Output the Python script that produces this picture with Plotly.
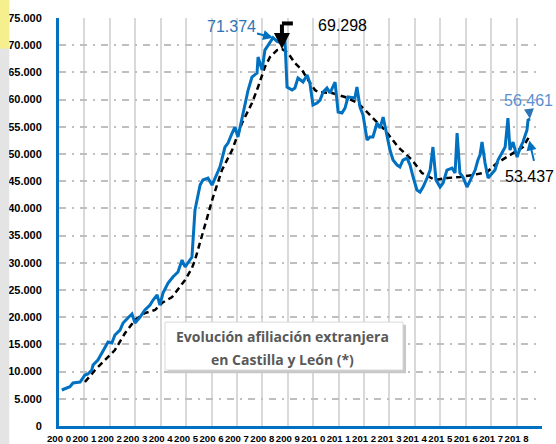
import plotly.graph_objects as go

# Blue series: foreign workers affiliated (decimal year, value)
blue_years = [2000.11, 2000.43, 2000.55, 2000.83, 2001.02, 2001.14, 2001.29, 2001.34, 2001.53, 2001.68,
              2001.81, 2001.93, 2002.08, 2002.20, 2002.40, 2002.52, 2002.71, 2002.87, 2002.99, 2003.19,
              2003.38, 2003.58, 2003.70, 2003.86, 2003.97, 2004.09, 2004.29, 2004.48, 2004.68, 2004.84,
              2004.96, 2005.23, 2005.35, 2005.55, 2005.66, 2005.86, 2006.02, 2006.22, 2006.33, 2006.53,
              2006.65, 2006.81, 2006.92, 2007.04, 2007.20, 2007.44, 2007.59, 2007.79, 2007.83, 2007.99,
              2008.10, 2008.30, 2008.42, 2008.58, 2008.69, 2008.89, 2008.97, 2009.17, 2009.28, 2009.40,
              2009.60, 2009.76, 2009.87, 2009.99, 2010.15, 2010.27, 2010.39, 2010.54, 2010.66, 2010.86,
              2010.98, 2011.13, 2011.25, 2011.37, 2011.64, 2011.72, 2011.84, 2011.96, 2012.12, 2012.23,
              2012.35, 2012.51, 2012.63, 2012.75, 2012.90, 2013.02, 2013.14, 2013.30, 2013.41, 2013.53,
              2013.69, 2013.81, 2013.93, 2014.08, 2014.20, 2014.32, 2014.48, 2014.60, 2014.71, 2014.83,
              2014.99, 2015.11, 2015.26, 2015.46, 2015.58, 2015.66, 2015.77, 2015.89, 2016.05, 2016.17,
              2016.37, 2016.48, 2016.56, 2016.64, 2016.76, 2016.88, 2017.03, 2017.15, 2017.27, 2017.43,
              2017.55, 2017.66, 2017.74, 2017.86, 2018.02, 2018.14, 2018.25, 2018.41, 2018.45, 2018.53]
blue_values = [6617, 7223, 7903, 8087, 9374, 9558, 10293, 11212, 12131, 13417,
               14520, 15439, 15255, 16726, 17645, 18931, 19850, 20586, 18931, 20034,
               21321, 22240, 23159, 24078, 22240, 24445, 26283, 27386, 28305, 30511,
               29224, 31062, 39701, 44296, 45215, 45582, 44296, 46501, 47604, 51280,
               52015, 53853, 54956, 53118, 56794, 61757, 64146, 64882, 67822, 65433,
               69109, 70579, 71374, 70700, 70500, 70800, 62308, 61757, 62124, 63962,
               63226, 64513, 63043, 59000, 59367, 59919, 61389, 62124, 61205, 63227,
               57713, 57529, 58448, 60470, 60286, 62308, 58632, 57162, 52567, 53118,
               53118, 55691, 54772, 56794, 53118, 50729, 48891, 47972, 47604, 48891,
               49258, 47972, 45766, 43377, 43009, 43928, 45582, 47053, 51280, 45215,
               43928, 44663, 47053, 47420, 46501, 53853, 46501, 45766, 43928, 45215,
               47053, 48891, 49810, 52199, 48339, 45582, 46501, 47053, 48891, 50361,
               51280, 56610, 50729, 52199, 49442, 51096, 52199, 54405, 56243, 56461]

# Black dashed trend (decimal year, value)
trend_years = [2001.02, 2001.42, 2001.81, 2002.20, 2002.60, 2002.99, 2003.38, 2003.78, 2004.05, 2004.45,
               2004.96, 2005.23, 2005.35, 2006.06, 2006.41, 2006.81, 2007.20, 2007.59, 2007.83, 2008.10,
               2008.30, 2008.58, 2008.77, 2009.01, 2009.28, 2009.56, 2009.80, 2010.07, 2010.19, 2010.74,
               2011.25, 2011.76, 2012.31, 2012.82, 2013.34, 2013.89, 2014.28, 2014.79, 2015.26, 2015.77,
               2016.28, 2016.84, 2017.23, 2017.62, 2018.02, 2018.25, 2018.53]
trend_values = [8087, 10293, 12131, 13969, 17093, 19483, 20769, 21321, 22607, 23710,
                26835, 29040, 30511, 42090, 47053, 50729, 55691, 59367, 62308, 65984,
                67822, 69109, 69298, 68557, 66719, 65433, 63594, 61757, 61389, 61205,
                60470, 59367, 56794, 54405, 51280, 48891, 46501, 45215, 45582, 45766,
                46133, 46685, 48339, 49442, 50729, 51280, 53437]

x_tickvals = list(range(2000, 2020))
x_ticktext = ["200 0", "200 1", "200 2", "200 3", "200 4", "200 5", "200 6", "200 7", "200 8", "200 9",
              "201 0", "201 1", "201 2", "201 3", "201 4", "201 5", "201 6", "201 7", "201 8", ""]
y_tickvals = list(range(0, 75001, 5000))
y_ticktext = ["0", "5.000", "10.000", "15.000", "20.000", "25.000", "30.000", "35.000", "40.000",
              "45.000", "50.000", "55.000", "60.000", "65.000", "70.000", "75.000"]

BLUE = "#0070C0"

fig = go.Figure()
fig.add_trace(go.Scatter(x=trend_years, y=trend_values, mode="lines",
                         line=dict(color="black", width=2.5, dash="6px,4px"), showlegend=False))
fig.add_trace(go.Scatter(x=blue_years, y=blue_values, mode="lines",
                         line=dict(color=BLUE, width=3), showlegend=False))

fig.update_layout(
    width=556, height=444,
    margin=dict(l=59, r=14, t=18, b=18, autoexpand=False),
    paper_bgcolor="white", plot_bgcolor="white",
    xaxis=dict(range=[2000, 2019], tickvals=x_tickvals, ticktext=x_ticktext, tickangle=0,
               showgrid=True, gridcolor="#d9d9d9", gridwidth=2, automargin=False,
               showline=True, linecolor=BLUE, linewidth=3, ticks="",
               tickfont=dict(family="Liberation Sans, Arial", size=9.6, color="black", weight="bold"),
               ticklabelstandoff=1, zeroline=False, fixedrange=True),
    yaxis=dict(range=[0, 75000], tickvals=y_tickvals, ticktext=y_ticktext, automargin=False,
               showgrid=True, gridcolor="#bfbfbf", gridwidth=2, griddash="7px,6px,2px,6px",
               showline=True, linecolor=BLUE, linewidth=3, ticks="",
               tickfont=dict(family="Liberation Sans, Arial", size=11, color="black", weight="bold"),
               ticklabelstandoff=12, zeroline=False, fixedrange=True),
)

# Title box with shadow (data coordinates)
fig.add_shape(type="rect", x0=2004.30, x1=2013.65, y0=9700, y1=18600,
              fillcolor="#c8c8c8", line=dict(width=0), layer="above")
fig.add_shape(type="rect", x0=2004.17, x1=2013.53, y0=10300, y1=19100,
              fillcolor="white", line=dict(color="#d9d9d9", width=1), layer="above")
fig.add_annotation(x=2008.81, y=16400, showarrow=False, text="Evolución afiliación extranjera",
                   font=dict(family="Open Sans", size=14, color="#595959", weight="bold"))
fig.add_annotation(x=2008.81, y=12150, showarrow=False, text="en Castilla y León (*)",
                   font=dict(family="Open Sans", size=14, color="#595959", weight="bold"))

# Value labels
fig.add_annotation(x=2008.42, y=71374, text="71.374", showarrow=True, arrowhead=2, arrowsize=1,
                   arrowwidth=2, arrowcolor=BLUE, ax=-42, ay=-11,
                   font=dict(family="Liberation Sans, Arial", size=16, color="#2E75B6"))
fig.add_annotation(x=2011.15, y=73700, text="69.298", showarrow=False,
                   font=dict(family="Liberation Sans, Arial", size=16, color="black"))
fig.add_annotation(x=2008.77, y=69298, text="", showarrow=True, arrowhead=2, arrowsize=0.8,
                   arrowwidth=4, arrowcolor="black", ax=0, ay=-26)
fig.add_shape(type="line", x0=2008.77, x1=2009.2, y0=74000, y1=74000,
              line=dict(color="black", width=4), layer="above")
fig.add_annotation(x=2018.53, y=56461, text="56.461", showarrow=True, arrowhead=2, arrowsize=1,
                   arrowwidth=2, arrowcolor="#2E75B6", ax=-2, ay=-18,
                   font=dict(family="Liberation Sans, Arial", size=16, color="#5B8FD0"))
fig.add_annotation(x=2018.5, y=45900, text="53.437", showarrow=False,
                   font=dict(family="Liberation Sans, Arial", size=16, color="black"))
fig.add_annotation(x=2018.5, y=52500, text="", showarrow=True, arrowhead=2, arrowsize=1,
                   arrowwidth=2, arrowcolor=BLUE, ax=5, ay=22)

# Left-edge window artifacts
fig.add_shape(type="rect", xref="paper", yref="paper", x0=-0.1222, x1=-0.103, y0=-0.05, y1=1.05,
              fillcolor="#e4e4e4", line=dict(width=0), layer="above")
fig.add_shape(type="rect", xref="paper", yref="paper", x0=-0.1222, x1=-0.103, y0=0.925, y1=1.05,
              fillcolor="#f6ef8e", line=dict(width=0), layer="above")

fig.write_html("out.html", config={"displayModeBar": False},
               post_script="document.body.style.margin='0px';")
